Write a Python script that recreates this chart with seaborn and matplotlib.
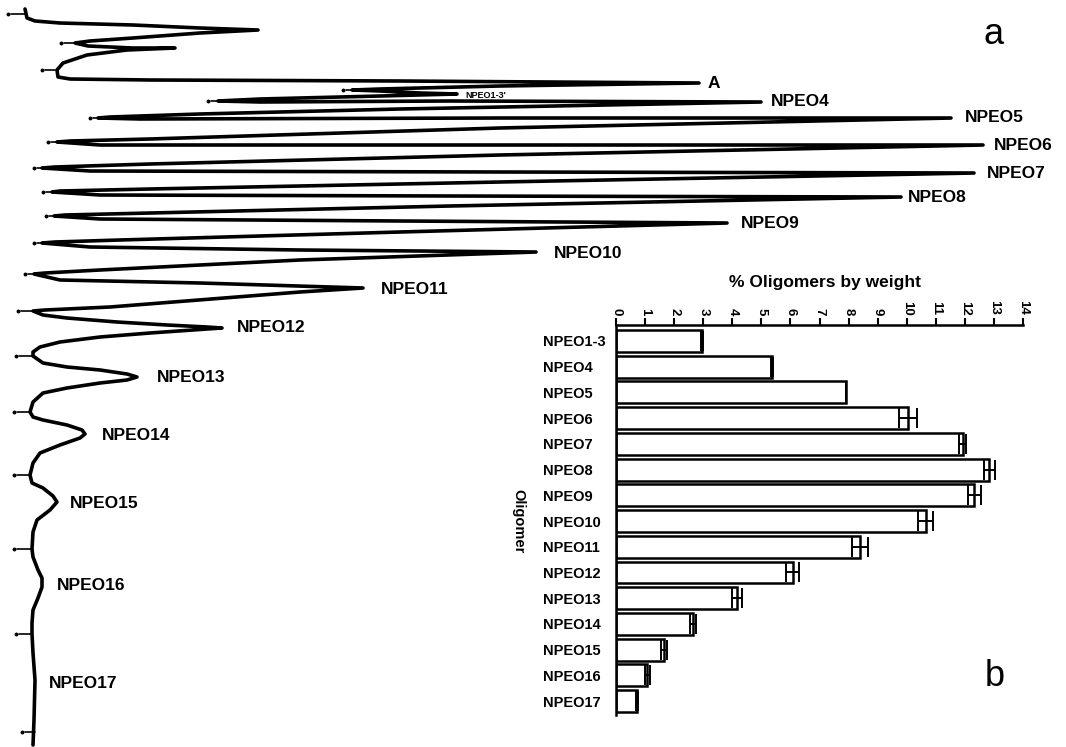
import numpy as np
import pandas as pd
import matplotlib
matplotlib.use("Agg")
import matplotlib.pyplot as plt
import seaborn as sns

# Panel a: chromatogram trace (signal to the right, elution downwards)
signal = [25, 27, 35, 60, 133, 200, 258,
          200, 133, 90, 75,
          88, 133, 175,
          127, 87, 63, 57,
          58, 70, 150, 400, 699,
          500, 380, 352,
          380, 420, 457,
          380, 260, 218,
          260, 450, 761,
          400, 200, 110, 98,
          140, 500, 951,
          500, 150, 70, 57,
          100, 500, 983,
          500, 150, 55, 42,
          90, 500, 974,
          500, 150, 60, 52,
          100, 450, 901,
          450, 150, 65, 54,
          100, 400, 727,
          400, 120, 55, 42,
          90, 300, 536,
          300, 100, 45, 34,
          60, 200, 330, 363,
          300, 110, 45, 33,
          43, 67, 117, 167, 207, 222,
          207, 150, 100, 60, 40, 33, 33,
          43, 67, 100, 127, 137,
          127, 100, 67, 43, 33, 30,
          33, 43, 67, 82, 85,
          80, 60, 40, 33, 30,
          32, 43, 53, 57,
          50, 37, 33, 32,
          33, 38, 42, 42,
          38, 33, 32, 32,
          33, 35, 34, 33]
elution = [9, 18, 21, 23, 25, 28, 30,
           33, 38, 41, 43,
           46, 48, 48,
           50, 55, 63, 70,
           77, 79, 80, 81, 83,
           86, 89, 90,
           91, 93, 94,
           96, 99, 101,
           102, 101, 102,
           109, 114, 117, 118,
           119, 118, 118,
           128, 139, 141, 142,
           145, 145, 145,
           155, 164, 167, 168,
           171, 172, 173,
           182, 189, 191, 192,
           195, 196, 197,
           206, 213, 215, 216,
           219, 221, 223,
           232, 240, 242, 243,
           247, 250, 252,
           260, 270, 273, 274,
           280, 283, 287, 288,
           292, 307, 310, 311,
           315, 318, 322, 325, 327, 328,
           329, 333, 337, 342, 347, 352, 356,
           363, 367, 370, 374, 377,
           380, 383, 388, 393, 402, 412,
           417, 420, 425, 430, 434,
           438, 445, 453, 463, 475,
           483, 488, 496, 502,
           510, 520, 532, 549,
           557, 570, 578, 587,
           598, 610, 623, 634,
           653, 680, 720, 745]

# time marks at the valleys: dot position, valley position, elution
mark_dot = [8, 61, 42, 343, 208, 90, 48, 34, 43, 46, 34, 25, 18, 16, 14, 14, 14, 16, 22]
mark_end = [25, 75, 55, 352, 218, 98, 57, 42, 52, 54, 42, 34, 33, 33, 30, 30, 32, 32, 35]
mark_y = [14, 43, 70, 90, 101, 118, 142, 168, 192, 216, 243, 274, 311, 356, 412, 475, 549, 634, 732]

peak_names = ["A", "NPEO4", "NPEO5", "NPEO6", "NPEO7", "NPEO8", "NPEO9", "NPEO10",
              "NPEO11", "NPEO12", "NPEO13", "NPEO14", "NPEO15", "NPEO16", "NPEO17"]
peak_lx = [708, 771, 965, 994, 987, 908, 741, 554, 381, 237, 157, 102, 70, 57, 49]
peak_ly = [83, 102, 118, 145, 173, 197, 223, 253, 289, 328, 377, 436, 503, 586, 684]

# Panel b: % oligomers by weight
oligomers = ["NPEO1-3", "NPEO4", "NPEO5", "NPEO6", "NPEO7", "NPEO8", "NPEO9", "NPEO10",
             "NPEO11", "NPEO12", "NPEO13", "NPEO14", "NPEO15", "NPEO16", "NPEO17"]
pct = [2.95, 5.37, 7.9, 10.05, 11.92, 12.84, 12.32, 10.66, 8.39, 6.08, 4.15, 2.64, 1.65, 1.08, 0.71]
pct_err = [0.04, 0.04, 0.0, 0.3, 0.13, 0.18, 0.22, 0.26, 0.27, 0.23, 0.17, 0.11, 0.1, 0.08, 0.03]

sns.set_theme(style="white")
plt.rcParams['font.family'] = ['Liberation Sans', 'DejaVu Sans']
plt.rcParams['text.color'] = 'black'
plt.rcParams['xtick.color'] = 'black'
plt.rcParams['ytick.color'] = 'black'
plt.rcParams['axes.labelcolor'] = 'black'

W, H = 1066, 747
fig = plt.figure(figsize=(W / 100, H / 100), dpi=100)
ax = fig.add_axes([0, 0, 1, 1])

trace = pd.DataFrame({"signal": signal, "elution": elution})
sns.lineplot(data=trace, x="signal", y="elution", sort=False, estimator=None,
             color="black", lw=2.6, ax=ax)
ax.set_xlim(0, W)
ax.set_ylim(H, 0)
ax.axis("off")

for d, e, y in zip(mark_dot, mark_end, mark_y):
    ax.plot([d + 3, e], [y, y], color="black", lw=1.2)
    ax.plot(d, y, "o", color="black", ms=1.8)

for name, x, y in zip(peak_names, peak_lx, peak_ly):
    ax.text(x, y, name, ha="left", va="center", fontsize=12.5, fontweight="bold")
ax.text(465, 95, "NPEO1-3'", ha="left", va="center", fontsize=6.5, fontweight="bold")

ax.text(994, 35, "a", ha="center", va="center", fontsize=26)
ax.text(995, 676, "b", ha="center", va="center", fontsize=26)

# inset bar chart
x0, x1, y0, y1 = 616, 1023, 325, 715
axb = fig.add_axes([x0 / W, 1 - y1 / H, (x1 - x0) / W, (y1 - y0) / H])
sns.barplot(x=pct, y=oligomers, orient="h", color="white", saturation=1,
            edgecolor="black", linewidth=1.8, width=0.85, errorbar=None, ax=axb)
axb.errorbar(pct, np.arange(len(pct)), xerr=pct_err, fmt="none", ecolor="black",
             elinewidth=1.4, capsize=7, capthick=1.4)
axb.set_xlim(0, 14)
axb.set_ylim(len(pct) - 0.46, -0.62)
axb.set_facecolor("none")
axb.xaxis.tick_top()
axb.set_xticks(range(15))
axb.tick_params(axis="x", direction="out", length=5, width=1.5, color="black",
                labelsize=9.5, pad=2, labelrotation=270)
for t in axb.get_xticklabels():
    t.set_fontweight("bold")
axb.tick_params(axis="y", length=0, pad=52.5, labelsize=10.5)
for t in axb.get_yticklabels():
    t.set_ha("left")
    t.set_fontweight("bold")
for side in ["right", "bottom"]:
    axb.spines[side].set_visible(False)
for side in ["top", "left"]:
    axb.spines[side].set_linewidth(1.8)
    axb.spines[side].set_color("black")
axb.set_xlabel("")
axb.set_ylabel("")

ax.text(825, 282, "% Oligomers by weight", ha="center", va="center",
        fontsize=12.5, fontweight="bold")
ax.text(518, 521, "Oligomer", ha="center", va="center", rotation=270,
        fontsize=10.5, fontweight="bold")

fig.savefig("out.png", dpi=100)
